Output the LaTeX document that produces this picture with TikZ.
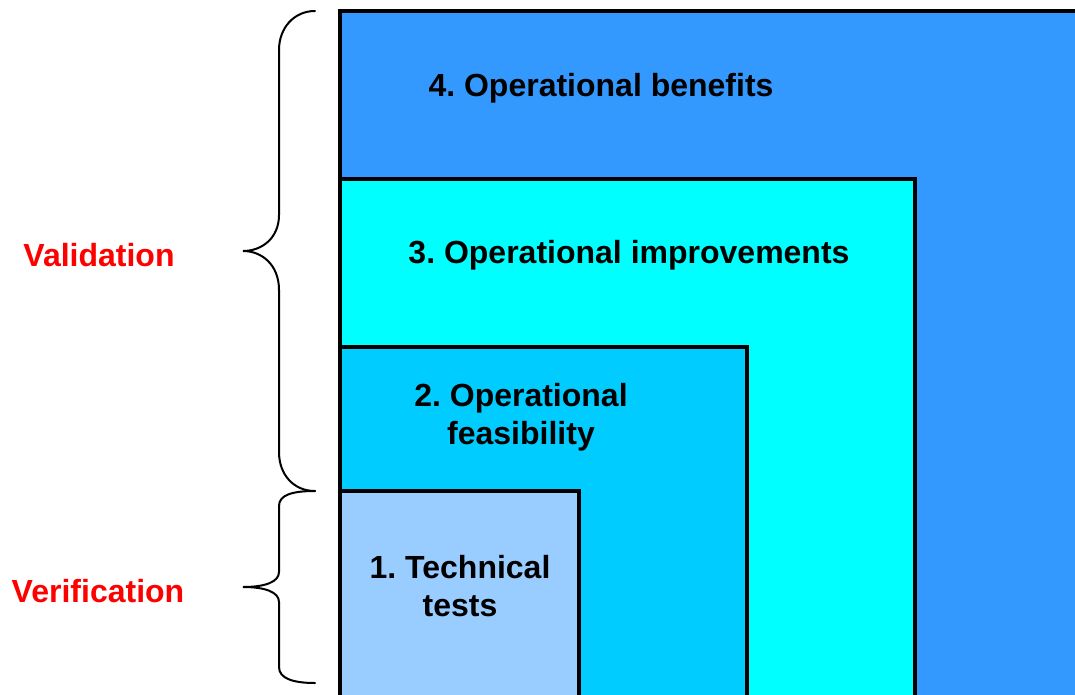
\documentclass[tikz,border=0pt]{standalone}
\usepackage{fontspec}
\setmainfont{Liberation Sans}
\frenchspacing
\definecolor{cOuter}{HTML}{3399FF}
\definecolor{cThree}{HTML}{00FFFF}
\definecolor{cTwo}{HTML}{00CCFF}
\definecolor{cOne}{HTML}{99CCFF}
\definecolor{cRed}{HTML}{FF0000}
\begin{document}
\begin{tikzpicture}[x=1pt,y=-1pt,
  levelbox/.style={draw=black,line width=4pt},
  lbl/.style={font=\fontsize{32}{38}\selectfont\bfseries,align=center,text=black,inner sep=0pt},
  side/.style={font=\fontsize{32}{38}\selectfont\bfseries,text=cRed,inner sep=0pt},
  brace/.style={draw=black,line width=2pt,line cap=round}]
\useasboundingbox (0,0) rectangle (1075,695);
\clip (0,0) rectangle (1075,695);
\fill[white] (0,0) rectangle (1075,695);
% boxes
\draw[levelbox,fill=cOuter] (340,11) rectangle (1100,720);
\draw[levelbox,fill=cThree] (340,179) rectangle (915,720);
\draw[levelbox,fill=cTwo] (340,347) rectangle (747,720);
\draw[levelbox,fill=cOne] (340,491) rectangle (579,720);
% labels
\node[lbl] (l4) at (601,88) {4. Operational benefits};
\node[lbl] (l3) at (629,255) {3. Operational improvements};
\node[lbl] (l2) at (521,417) {2. Operational\\feasibility};
\node[lbl] (l1) at (460,586) {1. Technical\\tests};
\node[side] (val) at (99,255) {Validation};
\node[side] (ver) at (98,591) {Verification};
% braces
\draw[brace] (315,11) .. controls (294,11) and (279,28) .. (279,50) -- (279,215)
  .. controls (279,238) and (262,251) .. (243,251)
  .. controls (262,251) and (279,265) .. (279,290) -- (279,452)
  .. controls (279,475) and (294,491) .. (315,491);
\draw[brace] (315,491) .. controls (292,491) and (279,495) .. (279,506) -- (279,572)
  .. controls (279,582) and (265,587) .. (243,587)
  .. controls (265,587) and (279,592) .. (279,602) -- (279,667)
  .. controls (279,678) and (292,683) .. (315,683);
\end{tikzpicture}
\end{document}
